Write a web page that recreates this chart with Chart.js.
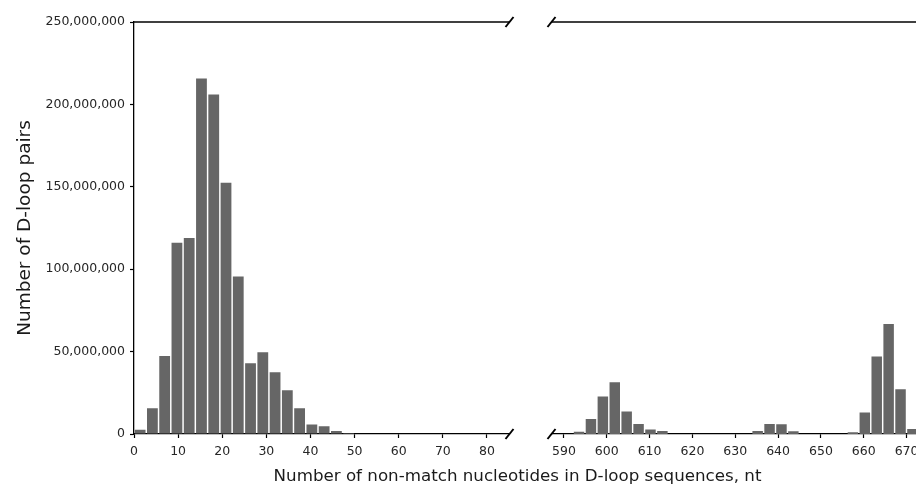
<!DOCTYPE html>
<html>
<head>
<meta charset="utf-8">
<script src="https://cdn.jsdelivr.net/npm/chart.js@4.4.1/dist/chart.umd.min.js"></script>
<style>
  html, body { margin: 0; padding: 0; background: #fff; }
  #wrap { position: relative; width: 916px; height: 484px; overflow: hidden; }
  #cl { position: absolute; left: 0; top: 0; }
  #cr { position: absolute; left: 530px; top: 0; }
  #xt { position: absolute; left: 517.5px; top: 467px; transform: translateX(-50%);
        font: 16.7px 'DejaVu Sans'; line-height: 16px; white-space: nowrap; color: #1a1a1a; }
</style>
</head>
<body>
<div id="wrap">
  <canvas id="cl" width="530" height="484"></canvas>
  <canvas id="cr" width="386" height="484"></canvas>
  <div id="xt">Number of non-match nucleotides in D-loop sequences, nt</div>
</div>
<script>
// histogram bins (centre, nt) and counts, left and right of the axis break
const leftBins = [1.39, 4.17, 6.95, 9.73, 12.51, 15.29, 18.07, 20.85, 23.63, 26.41,
                  29.19, 31.97, 34.75, 37.53, 40.31, 43.09, 45.87, 48.65];
const leftCounts = [2600000, 15600000, 47400000, 116000000, 119000000, 215700000, 206000000,
                    152500000, 95600000, 43000000, 49600000, 37500000, 26500000, 15600000,
                    5700000, 4700000, 1800000, 600000];
const rightBins = [593.53, 596.31, 599.09, 601.87, 604.65, 607.43, 610.21, 612.99,
                   635.23, 638.01, 640.79, 643.57,
                   657.47, 660.25, 663.03, 665.81, 668.59, 671.37];
const rightCounts = [1400000, 9100000, 22700000, 31400000, 13600000, 6100000, 2800000, 1800000,
                     1800000, 6100000, 5900000, 1600000,
                     1000000, 13000000, 47000000, 66700000, 27200000, 3000000];

const leftTicks = [0, 10, 20, 30, 40, 50, 60, 70, 80];
const rightTicks = [590, 600, 610, 620, 630, 640, 650, 660, 670];
const yTicks = [0, 50000000, 100000000, 150000000, 200000000, 250000000];

const FONT = "'DejaVu Sans'";
const INK = '#262626';

// top spine + diagonal break marks
const breakMarks = {
  id: 'breakMarks',
  afterDraw(c, args, o) {
    const { ctx, chartArea: a } = c;
    ctx.save();
    ctx.strokeStyle = '#000';
    ctx.lineWidth = 1.3;
    ctx.beginPath(); ctx.moveTo(a.left, a.top); ctx.lineTo(a.right, a.top); ctx.stroke();
    const x = o.side === 'right' ? a.right : a.left;
    ctx.lineWidth = 2;
    [a.top, a.bottom].forEach(y => {
      ctx.beginPath(); ctx.moveTo(x - 4, y + 5); ctx.lineTo(x + 4, y - 5); ctx.stroke();
    });
    ctx.restore();
  }
};

function axisX(min, max, ticks) {
  return {
    type: 'linear', min, max, offset: false,
    afterBuildTicks: s => { s.ticks = ticks.map(v => ({ value: v })); },
    afterFit: s => { s.height = 50; s.paddingLeft = 0; s.paddingRight = 0; },
    ticks: { font: { family: FONT, size: 12.5 }, color: INK, padding: 6, maxRotation: 0, autoSkip: false, callback: v => String(v) },
    grid: { offset: false, drawOnChartArea: false, tickLength: 4, tickColor: '#000', tickWidth: 1.2 },
    border: { color: '#000', width: 1.3 }
  };
}

function makeChart(id, bins, counts, xmin, xmax, ticks, showY, pad, side) {
  return new Chart(document.getElementById(id), {
    type: 'bar',
    data: { datasets: [{
      data: bins.map((x, i) => ({ x, y: counts[i] })),
      backgroundColor: '#666666', barPercentage: 0.88, categoryPercentage: 1
    }] },
    options: {
      responsive: false, animation: false, devicePixelRatio: 1,
      layout: { padding: pad },
      plugins: { legend: { display: false }, tooltip: { enabled: false }, breakMarks: { side } },
      scales: {
        x: axisX(xmin, xmax, ticks),
        y: {
          display: showY, min: 0, max: 250000000,
          afterBuildTicks: s => { s.ticks = yTicks.map(v => ({ value: v })); },
          afterFit: s => { if (showY) s.width = 134; },
          ticks: { font: { family: FONT, size: 12.5 }, color: INK, padding: 5, callback: v => v.toLocaleString('en-US') },
          grid: { drawOnChartArea: false, tickLength: 4, tickColor: '#000', tickWidth: 1.2 },
          border: { color: '#000', width: 1.3 },
          title: { display: true, text: 'Number of D-loop pairs', font: { family: FONT, size: 18.5 }, color: '#1a1a1a', padding: { top: 14, bottom: 0 } }
        }
      }
    },
    plugins: [breakMarks]
  });
}

makeChart('cl', leftBins, leftCounts, 0, 85.1, leftTicks, true, { left: 0, top: 22, right: 20.5, bottom: 0 }, 'right');
makeChart('cr', rightBins, rightCounts, 587.1, 672.2, rightTicks, false, { left: 21.5, top: 22, right: 0, bottom: 0 }, 'left');
</script>
</body>
</html>
